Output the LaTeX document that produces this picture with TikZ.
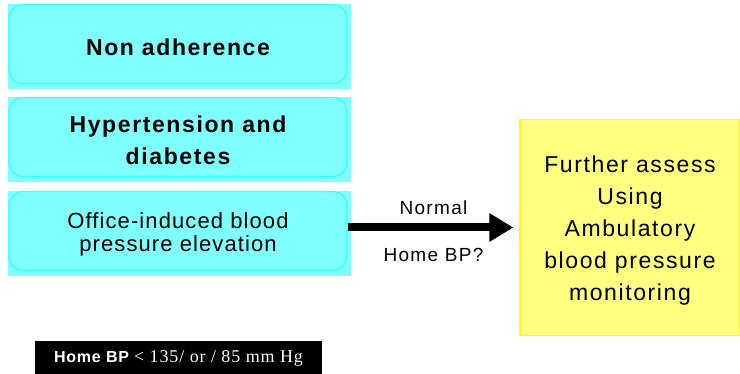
\documentclass[tikz,border=0pt]{standalone}
\usepackage{fontspec}
\setmainfont{Liberation Sans}
\newfontfamily\spacedfont[LetterSpace=7]{Liberation Sans}
\newfontfamily\widefont[LetterSpace=5]{Liberation Sans}
\newfontfamily\timesfont[LetterSpace=5]{Liberation Serif}
\usetikzlibrary{arrows.meta}
\usetikzlibrary{backgrounds}
\newcommand{\topgap}{\rule{0pt}{23pt}} % Taller first line, pushes the text down
\definecolor{boxcyan}{RGB}{128,255,255}
\definecolor{edgecyan}{RGB}{60,255,255}
\definecolor{boxyellow}{RGB}{255,255,128}
\definecolor{edgeyellow}{RGB}{255,255,0}
\tikzset{cause/.style={ % Rounded boxes on the left
draw=edgecyan,
line width=1.2pt,
fill=boxcyan,
rounded corners=14pt,
minimum width=338pt,
minimum height=79pt,
align=center},
result/.style={ % Box on the right
draw=edgeyellow,
line width=1.2pt,
fill=boxyellow,
minimum width=220pt,
minimum height=216pt,
align=center,
font=\spacedfont\fontsize{23}{32}\selectfont},
bigarrow/.style={ % Thick arrow with a wide head
line width=8pt,
-{Triangle[length=24pt,width=27pt]},
shorten >=6pt},
note/.style={ % Black box at the bottom
fill=black,
text=white,
minimum width=287pt,
minimum height=33pt}}

\begin{document}
\begin{tikzpicture}[x=1pt,y=-1pt]
    \useasboundingbox (0,0) rectangle (740,374);
    \node[cause, font=\spacedfont\bfseries\fontsize{23}{32}\selectfont] (nonadh) at (178,44) {\topgap Non adherence};
    \node[cause, font=\spacedfont\bfseries\fontsize{23}{32}\selectfont] (hyperdm) at (178,137) {\topgap Hypertension and\\diabetes};
    \node[cause, font=\widefont\fontsize{22}{23}\selectfont] (office) at (178,231) {\topgap Office-induced blood\\pressure elevation};
    \node[result] (assess) at (630,227.5) {\topgap Further assess\\Using\\Ambulatory\\blood pressure\\monitoring};
    \node[note] (homebp) at (178.5,358) {{\widefont\bfseries\fontsize{16}{18}\selectfont Home BP}\hspace{5pt}{\timesfont\fontsize{18}{20}\selectfont < 135/ or / 85 mm Hg}};
    \begin{scope}[on background layer]
    \foreach \n in {nonadh,hyperdm,office}
        \fill[boxcyan] (\n.north west) rectangle ([xshift=3pt,yshift=-5pt]\n.south east);
    \end{scope}
    \draw[bigarrow] (assess.west -| office.east) -- node[above=5pt, font=\spacedfont\fontsize{19}{21}\selectfont] {Normal} node[below=13pt, font=\spacedfont\fontsize{19}{21}\selectfont] {Home BP?} (assess.west);
\end{tikzpicture}
\end{document}
